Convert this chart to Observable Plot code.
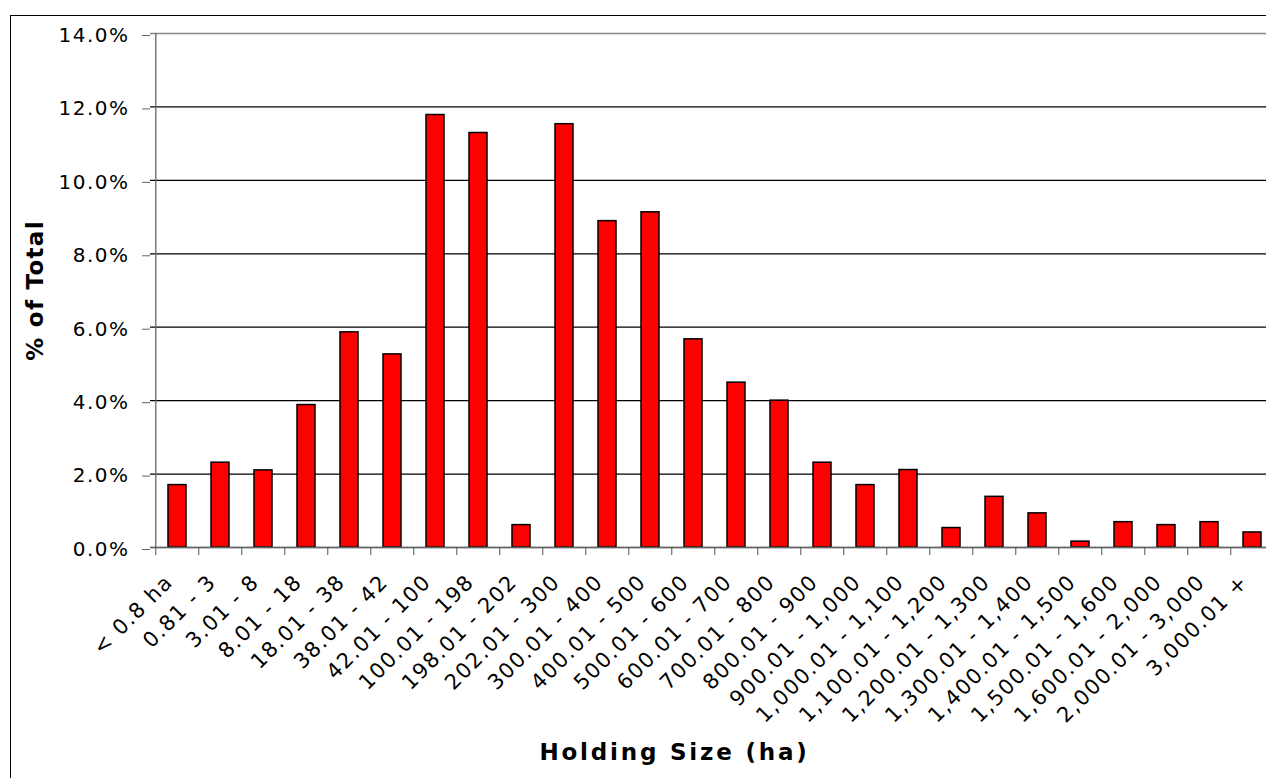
<!DOCTYPE html>
<html><head><meta charset="utf-8">
<script src="https://cdn.jsdelivr.net/npm/d3@7"></script>
<script src="https://cdn.jsdelivr.net/npm/@observablehq/plot@0.6"></script>
<style>
html,body{margin:0;padding:0;background:#fff;overflow:hidden;width:1266px;height:778px}
#wrap{position:relative;width:1266px;height:778px;overflow:hidden}
#frame{position:absolute;left:10px;top:15px;width:1400px;height:900px;border-left:1.5px solid #000;border-top:1.5px solid #000;box-sizing:border-box}
#chart{position:absolute;left:0;top:0}
#chart svg{overflow:hidden}
</style></head><body>
<div id="wrap"><div id="frame"></div><div id="chart"></div></div>
<script>
const categories = ["< 0.8 ha","0.81 - 3","3.01 - 8","8.01 - 18","18.01 - 38","38.01 - 42","42.01 - 100","100.01 - 198","198.01 - 202","202.01 - 300","300.01 - 400","400.01 - 500","500.01 - 600","600.01 - 700","700.01 - 800","800.01 - 900","900.01 - 1,000","1,000.01 - 1,100","1,100.01 - 1,200","1,200.01 - 1,300","1,300.01 - 1,400","1,400.01 - 1,500","1,500.01 - 1,600","1,600.01 - 2,000","2,000.01 - 3,000","3,000.01 +"];
const shares = [1.70,2.31,2.10,3.88,5.86,5.26,11.78,11.29,0.61,11.53,8.89,9.13,5.67,4.49,4.00,2.31,1.70,2.11,0.53,1.38,0.93,0.16,0.69,0.61,0.69,0.41];
const yTicks = [0,2,4,6,8,10,12,14];
const gridTicks = [2,4,6,8,10,12];
const borderTicks = [0,14];
const xTitle = "Holding Size (ha)";
const yTitle = "% of Total";

const data = categories.map((c,i)=>({category:c, share:shares[i]}));
const font = "'DejaVu Sans', Verdana, sans-serif";
const halfStep = 1129.7 / categories.length / 2;

const plot = Plot.plot({
  width:1266, height:778,
  marginLeft:150, marginTop:33, marginBottom:231, marginRight:0,
  style:{fontFamily:font, fontSize:"20px", color:"#000", background:"transparent", letterSpacing:"1.5px"},
  x:{domain:categories, range:[150, 1279.7], paddingInner:0.58, paddingOuter:0.29, align:0.5, axis:null},
  y:{domain:[0,14], axis:null},
  marks:[
    Plot.gridY(gridTicks, {stroke:"#000", strokeOpacity:1, strokeWidth:1.3}),
    Plot.ruleY(borderTicks, {stroke:"#888", strokeWidth:1.3}),
    Plot.tickX([categories[0]], {x:d=>d, dx:-halfStep, stroke:"#666", strokeWidth:1.3}),
    Plot.barY(data, {x:"category", y:"share", fill:"#ff0000", stroke:"#000", strokeWidth:1.5}),
    Plot.ruleY([0], {stroke:"#666", strokeWidth:1.3}),
    Plot.axisY(yTicks, {tickSize:8, tickPadding:13, tickFormat:d=>d.toFixed(1)+"%", fontSize:20, stroke:"#666", fill:"#000", dy:2, label:null}),
    Plot.axisX({tickSize:8, tickFormat:()=>"", dx:-halfStep, stroke:"#555", label:null}),
    Plot.text(categories, {x:d=>d, frameAnchor:"bottom", rotate:-45, textAnchor:"end", lineAnchor:"middle", dx:-8, dy:31, fontSize:21, fill:"#000"}),
    Plot.text([yTitle], {frameAnchor:"left", textAnchor:"middle", lineAnchor:"middle", dx:-115, rotate:-90, fontWeight:"bold", fontSize:23, fill:"#000"}),
    Plot.text([xTitle], {frameAnchor:"bottom", textAnchor:"middle", lineAnchor:"middle", dx:-34, dy:205, fontWeight:"bold", fontSize:23, fill:"#000"})
  ]
});
d3.select(plot).selectAll("text").filter(function(){return this.textContent===xTitle;}).style("letter-spacing","2.8px");
d3.select(plot).selectAll("text").filter(function(){return this.textContent===yTitle;}).style("letter-spacing","1.3px");
document.getElementById("chart").appendChild(plot);
</script>
</body></html>
